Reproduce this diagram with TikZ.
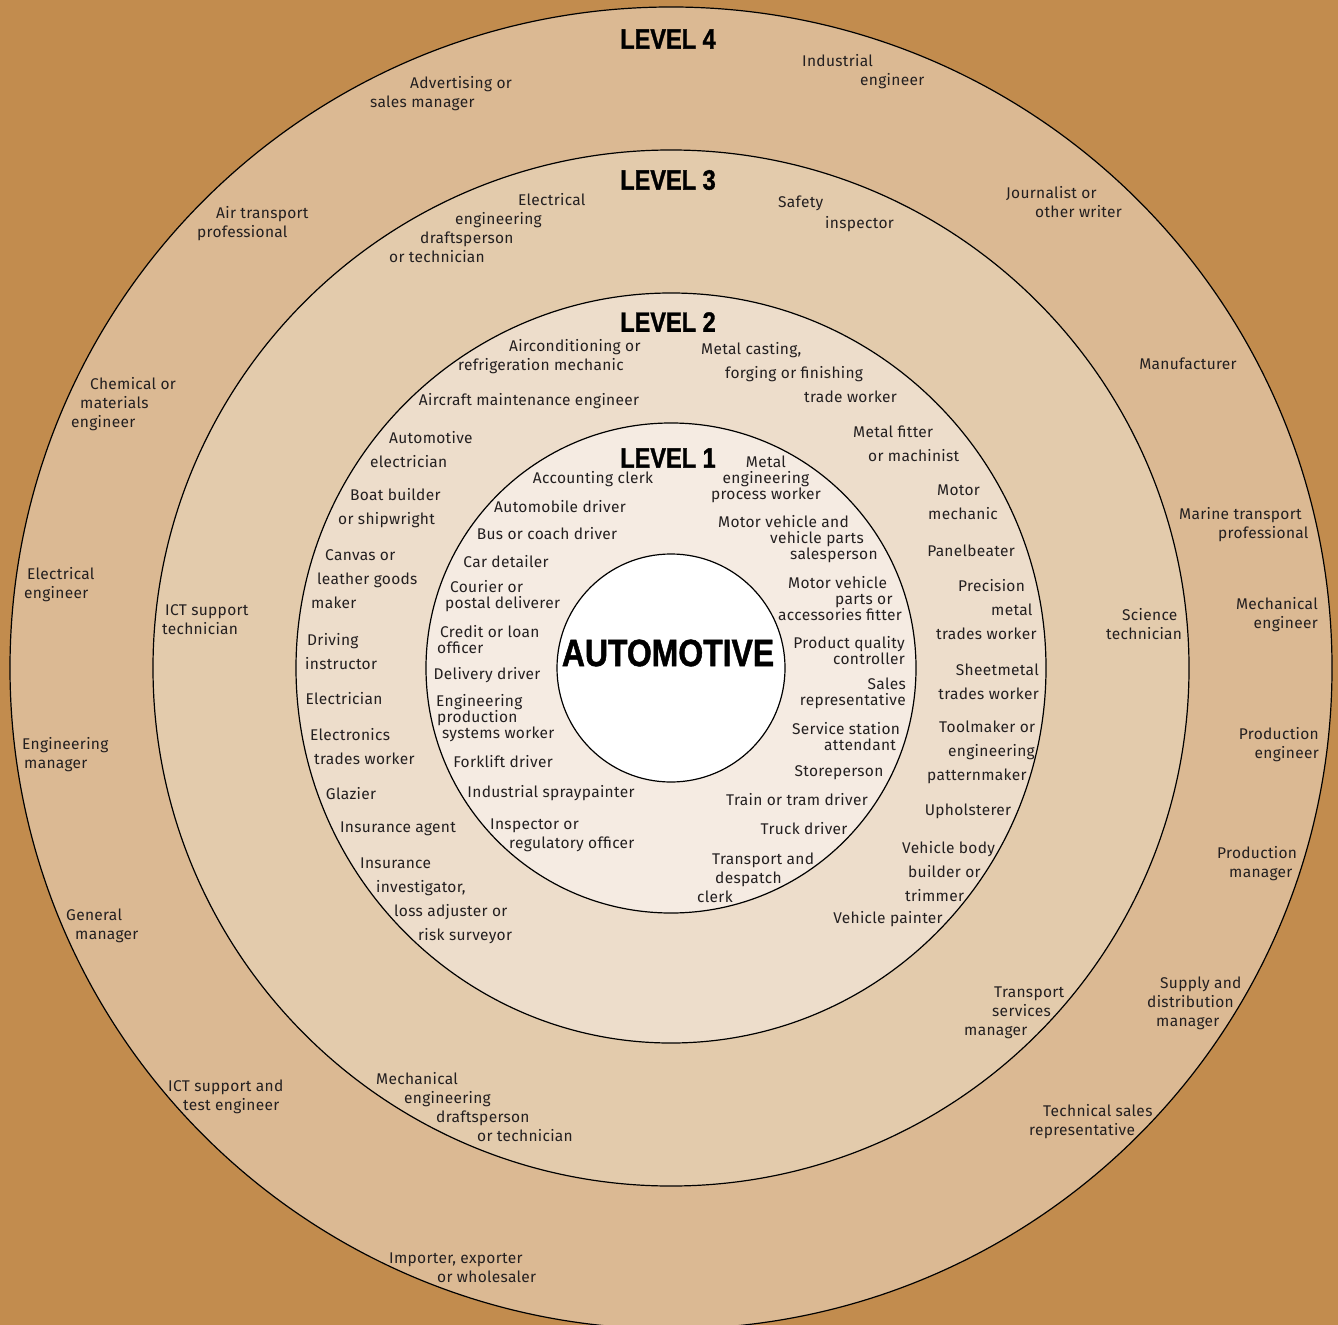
\documentclass[tikz,border=0pt]{standalone}
\usepackage{fontspec}
\setmainfont{Fira Sans}[LetterSpace=2]
\newfontfamily\titlefont{Liberation Sans}[FakeStretch=0.84,FakeBold=1.2]
\definecolor{bgbrown}{HTML}{C28C4E}
\definecolor{ringfour}{HTML}{DBB993}
\definecolor{ringthree}{HTML}{E3CBAC}
\definecolor{ringtwo}{HTML}{EDDDCB}
\definecolor{ringone}{HTML}{F5EBE2}
\definecolor{ink}{HTML}{231F20}
\begin{document}
\begin{tikzpicture}[x=1bp,y=-1bp,
    job/.style={inner sep=0pt,text=ink,align=left,yshift=-1.5bp,font=\fontsize{15.5bp}{16bp}\selectfont},
    tight/.style={font=\fontsize{15.5bp}{16bp}\selectfont},
    mid/.style={font=\fontsize{15.5bp}{19bp}\selectfont},
    wide/.style={font=\fontsize{15.5bp}{24bp}\selectfont},
    level/.style={inner sep=0pt,text=black,font=\titlefont\bfseries\fontsize{28bp}{28bp}\selectfont},
    ring/.style={draw=black,line width=1.2bp}]
    \useasboundingbox (0,0) rectangle (1338,1325);
    \fill[bgbrown] (0,0) rectangle (1338,1325);

    \coordinate (c) at (671,668);
    \filldraw[ring,fill=ringfour] (c) circle[radius=661bp];
    \filldraw[ring,fill=ringthree] (c) circle[radius=518bp];
    \filldraw[ring,fill=ringtwo] (c) circle[radius=375bp];
    \filldraw[ring,fill=ringone] (c) circle[radius=245bp];
    \filldraw[ring,fill=white] (c) circle[radius=114bp];

    \node[level] (lev4) at (668,39) {LEVEL 4};
    \node[level] (lev3) at (668,180) {LEVEL 3};
    \node[level] (lev2) at (668,322) {LEVEL 2};
    \node[level] (lev1) at (668,458) {LEVEL 1};
    \node[level,font=\titlefont\bfseries\fontsize{38bp}{38bp}\selectfont] (auto) at (668,653) {AUTOMOTIVE};

    % level 4
    \node[job,mid,anchor=west] (adv) at (370,92.5) {\hspace*{40bp}Advertising or\\sales manager};
    \node[job,mid,anchor=west] (indeng) at (802,70.5) {Industrial\\\hspace*{58bp}engineer};
    \node[job,mid,anchor=west] (airpro) at (197,222.5) {\hspace*{19bp}Air transport\\professional};
    \node[job,mid,anchor=west] (journ) at (1006,200.5) {Journalist or\\\hspace*{29bp}other writer};
    \node[job,mid,anchor=west] (chem) at (71,403) {\hspace*{19bp}Chemical or\\\hspace*{9bp}materials\\engineer};
    \node[job] (manuf) at (1188,362) {Manufacturer};
    \node[job,mid,anchor=west] (eleceng) at (24,583) {\hspace*{3bp}Electrical\\engineer};
    \node[job,mid,anchor=west] (marine) at (1179,523.5) {Marine transport\\\hspace*{39bp}professional};
    \node[job,mid,anchor=east,align=right] (mecheng) at (1318,613) {Mechanical\\engineer};
    \node[job,mid,anchor=west] (engmgr) at (22,753.5) {Engineering\\\hspace*{2bp}manager};
    \node[job,mid,anchor=east,align=right] (prodeng) at (1319,743) {Production\\engineer};
    \node[job,mid,anchor=west] (genmgr) at (66,924.5) {General\\\hspace*{9bp}manager};
    \node[job,mid,anchor=west] (prodmgr) at (1217,862.5) {Production\\\hspace*{12bp}manager};
    \node[job,mid,anchor=west] (icttest) at (168,1095.5) {ICT support and\\\hspace*{15bp}test engineer};
    \node[job,mid,anchor=west] (supply) at (1147,1002) {\hspace*{13bp}Supply and\\distribution\\\hspace*{9bp}manager};
    \node[job,mid,anchor=west] (techsales) at (1029,1120) {\hspace*{14bp}Technical sales\\representative};
    \node[job,mid,anchor=west] (importer) at (389,1266) {Importer, exporter\\\hspace*{48bp}or wholesaler};

    % level 3
    \node[job,mid,anchor=west] (elecdraft) at (389,227) {\hspace*{129bp}Electrical\\\hspace*{66bp}engineering\\\hspace*{31bp}draftsperson\\or technician};
    \node[job,wide,font=\fontsize{15.5bp}{21bp}\selectfont,anchor=west] (safety) at (778,212.5) {Safety\\\hspace*{47bp}inspector};
    \node[job,mid,anchor=west] (icttech) at (162,618) {\hspace*{3bp}ICT support\\technician};
    \node[job,mid,anchor=west] (science) at (1106,622.5) {\hspace*{16bp}Science\\technician};
    \node[job,mid,anchor=west] (transmgr) at (964,1011) {\hspace*{30bp}Transport\\\hspace*{28bp}services\\manager};
    \node[job,mid,anchor=west] (mechdraft) at (376,1106) {Mechanical\\\hspace*{28bp}engineering\\\hspace*{60bp}draftsperson\\\hspace*{101bp}or technician};

    % level 2
    \node[job,mid,anchor=west] (aircon) at (458,355.5) {\hspace*{51bp}Airconditioning or\\refrigeration mechanic};
    \node[job,wide,anchor=west] (casting) at (701,371) {Metal casting,\\\hspace*{24bp}forging or finishing\\\hspace*{103bp}trade worker};
    \node[job] (aircraft) at (529,400) {Aircraft maintenance engineer};
    \node[job,wide,anchor=west] (fitter) at (853,442) {Metal fitter\\\hspace*{15bp}or machinist};
    \node[job,wide,anchor=west] (autoelec) at (370,448) {\hspace*{19bp}Automotive\\electrician};
    \node[job,wide,anchor=west] (motormech) at (928,501) {\hspace*{9bp}Motor\\mechanic};
    \node[job,wide,anchor=west] (boat) at (338,507) {\hspace*{12bp}Boat builder\\or shipwright};
    \node[job] (panel) at (971,549) {Panelbeater};
    \node[job,wide,anchor=west] (canvas) at (311,578) {\hspace*{14bp}Canvas or\\\hspace*{6bp}leather goods\\maker};
    \node[job,wide,anchor=west] (precision) at (936,608) {\hspace*{22bp}Precision\\\hspace*{55bp}metal\\trades worker};
    \node[job,wide,anchor=west] (driving) at (305,650) {\hspace*{2bp}Driving\\instructor};
    \node[job,wide,anchor=east,align=right] (sheet) at (1039,680) {Sheetmetal\\trades worker};
    \node[job] (electrician) at (344,697) {Electrician};
    \node[job,wide,anchor=west] (toolmaker) at (927,751) {\hspace*{12bp}Toolmaker or\\\hspace*{21bp}engineering\\patternmaker};
    \node[job,wide,anchor=west] (electronics) at (310,745) {Electronics\\\hspace*{4bp}trades worker};
    \node[job] (uphol) at (968,810) {Upholsterer};
    \node[job] (glazier) at (351,792) {Glazier};
    \node[job,wide,anchor=west] (vehbody) at (902,870) {Vehicle body\\\hspace*{6bp}builder or\\\hspace*{3bp}trimmer};
    \node[job] (insagent) at (398,827) {Insurance agent};
    \node[job] (vehpaint) at (888,918) {Vehicle painter};
    \node[job,wide,anchor=west] (insinv) at (360,899) {Insurance\\\hspace*{16bp}investigator,\\\hspace*{34bp}loss adjuster or\\\hspace*{58bp}risk surveyor};

    % level 1
    \node[job] (acclerk) at (593,478) {Accounting clerk};
    \node[job,tight,align=center] (metalproc) at (766,478) {Metal\\engineering\\process worker};
    \node[job] (autodrv) at (560,505) {Automobile driver};
    \node[job,tight,anchor=west] (mvsales) at (718,538) {Motor vehicle and\\\hspace*{52bp}vehicle parts\\\hspace*{72bp}salesperson};
    \node[job] (busdrv) at (547,532) {Bus or coach driver};
    \node[job] (cardet) at (506,560) {Car detailer};
    \node[job,tight,anchor=west] (mvparts) at (778,597) {\hspace*{10bp}Motor vehicle\\\hspace*{57bp}parts or\\accessories fitter};
    \node[job,tight,anchor=west] (courier) at (445,595) {\hspace*{5bp}Courier or\\postal deliverer};
    \node[job,tight,anchor=west] (credit) at (437,638) {\hspace*{3bp}Credit or loan\\officer};
    \node[job,tight,anchor=east,align=right] (quality) at (905,649) {Product quality\\controller};
    \node[job] (deldrv) at (487,674) {Delivery driver};
    \node[job,tight,anchor=east,align=right] (salesrep) at (906,692) {Sales\\representative};
    \node[job,tight,anchor=west] (engprod) at (436,717) {Engineering\\\hspace*{1bp}production\\\hspace*{6bp}systems worker};
    \node[job,tight,anchor=west] (service) at (792,735) {Service station\\\hspace*{32bp}attendant};
    \node[job] (forklift) at (503,760) {Forklift driver};
    \node[job] (store) at (839,771) {Storeperson};
    \node[job] (spray) at (551,792) {Industrial spraypainter};
    \node[job] (train) at (797,798) {Train or tram driver};
    \node[job,mid,anchor=west] (inspector) at (490,833.5) {Inspector or\\\hspace*{19bp}regulatory officer};
    \node[job] (truck) at (804,827) {Truck driver};
    \node[job,mid,anchor=west] (despatch) at (697,876) {\hspace*{15bp}Transport and\\\hspace*{18bp}despatch\\clerk};
\end{tikzpicture}
\end{document}
